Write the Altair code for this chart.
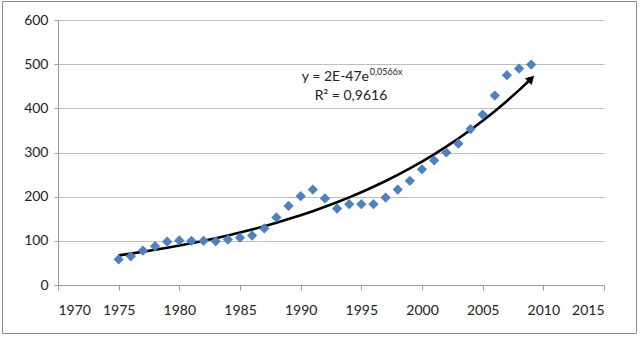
import altair as alt
import numpy as np
import pandas as pd

# Yearly values plotted as blue diamonds
years = list(range(1975, 2010))
values = [58, 65, 78, 88, 98, 101, 100, 100, 99, 103, 107, 112, 128, 153, 179,
          201, 216, 196, 173, 183, 183, 183, 198, 216, 236, 262, 282, 300, 320,
          353, 386, 429, 475, 490, 499]

x_ticks = list(range(1970, 2016, 5))
y_ticks = list(range(0, 601, 100))

# Trendline annotation text
eq_main = ["y = 2E-47e"]
eq_sup = ["0,0566x"]
eq_r2 = ["R² = 0,9616"]

FONT = "Lato"
BLUE = "#4f81bd"

# Exponential trendline: least squares on log(value), as spreadsheet tools do
b, ln_a = np.polyfit(np.array(years, dtype=float) - 1975.0, np.log(values), 1)

df = pd.DataFrame({"year": years, "value": values})

x_scale = alt.Scale(domain=[1970, 2015], nice=False, zero=False)
y_scale = alt.Scale(domain=[0, 600], nice=False)

x_axis = alt.Axis(values=x_ticks, format="d", title=None, grid=False,
                  domainColor="#9a9a9a", tickColor="#9a9a9a", tickSize=5,
                  labelPadding=13, labelFont=FONT, labelFontSize=14,
                  labelColor="#222222")
y_axis = alt.Axis(values=y_ticks, title=None, grid=True, gridColor="#bdbdbd",
                  gridWidth=1, domainColor="#9a9a9a", tickColor="#9a9a9a",
                  tickSize=4, labelPadding=6, labelFont=FONT, labelFontSize=14,
                  labelColor="#222222")

base = alt.Chart(df)

points = base.mark_point(shape="diamond", filled=True, size=105, color=BLUE,
                         opacity=1).encode(
    x=alt.X("year:Q", scale=x_scale, axis=x_axis),
    y=alt.Y("value:Q", scale=y_scale, axis=y_axis),
)

fit = base.transform_calculate(
    fit=f"exp({ln_a} + {b} * (datum.year - 1975))"
)

trend = fit.mark_line(color="black", strokeWidth=2.6).encode(
    x=alt.X("year:Q", scale=x_scale),
    y=alt.Y("fit:Q", scale=y_scale),
)

# Arrowhead at the end of the trendline
arrow = fit.transform_filter(
    alt.datum.year == max(years)
).mark_point(shape="triangle-up", filled=True, size=90, color="black",
             angle=46, opacity=1).encode(
    x=alt.X("year:Q", scale=x_scale),
    y=alt.Y("fit:Q", scale=y_scale),
)

main_txt = alt.Chart(pd.DataFrame({"t": eq_main, "x": [1995.63], "y": [471]})).mark_text(
    align="right", baseline="middle", font=FONT, fontSize=14, color="#222222"
).encode(x=alt.X("x:Q", scale=x_scale), y=alt.Y("y:Q", scale=y_scale), text="t:N")

sup_txt = alt.Chart(pd.DataFrame({"t": eq_sup, "x": [1995.7], "y": [482]})).mark_text(
    align="left", baseline="middle", font=FONT, fontSize=9, color="#222222"
).encode(x=alt.X("x:Q", scale=x_scale), y=alt.Y("y:Q", scale=y_scale), text="t:N")

r2_txt = alt.Chart(pd.DataFrame({"t": eq_r2, "x": [1994.15], "y": [428]})).mark_text(
    align="center", baseline="middle", font=FONT, fontSize=14, color="#222222"
).encode(x=alt.X("x:Q", scale=x_scale), y=alt.Y("y:Q", scale=y_scale), text="t:N")

# Outer chart frame
frame = alt.Chart(pd.DataFrame({"k": [0]})).mark_rect(
    fill=None, stroke="#8c8c8c", strokeWidth=1, clip=False
).encode(x=alt.value(-55.5), x2=alt.value(578.5), y=alt.value(-18.5),
         y2=alt.value(313.5))

chart = alt.layer(frame, trend, points, arrow, main_txt, sup_txt, r2_txt).properties(
    width=546, height=265,
    autosize=alt.AutoSizeParams(type="none"),
    padding={"left": 58, "top": 20, "right": 36, "bottom": 52},
    background="white",
).configure_view(stroke=None)

chart.save("out.html", embed_options={"renderer": "svg", "actions": False})
